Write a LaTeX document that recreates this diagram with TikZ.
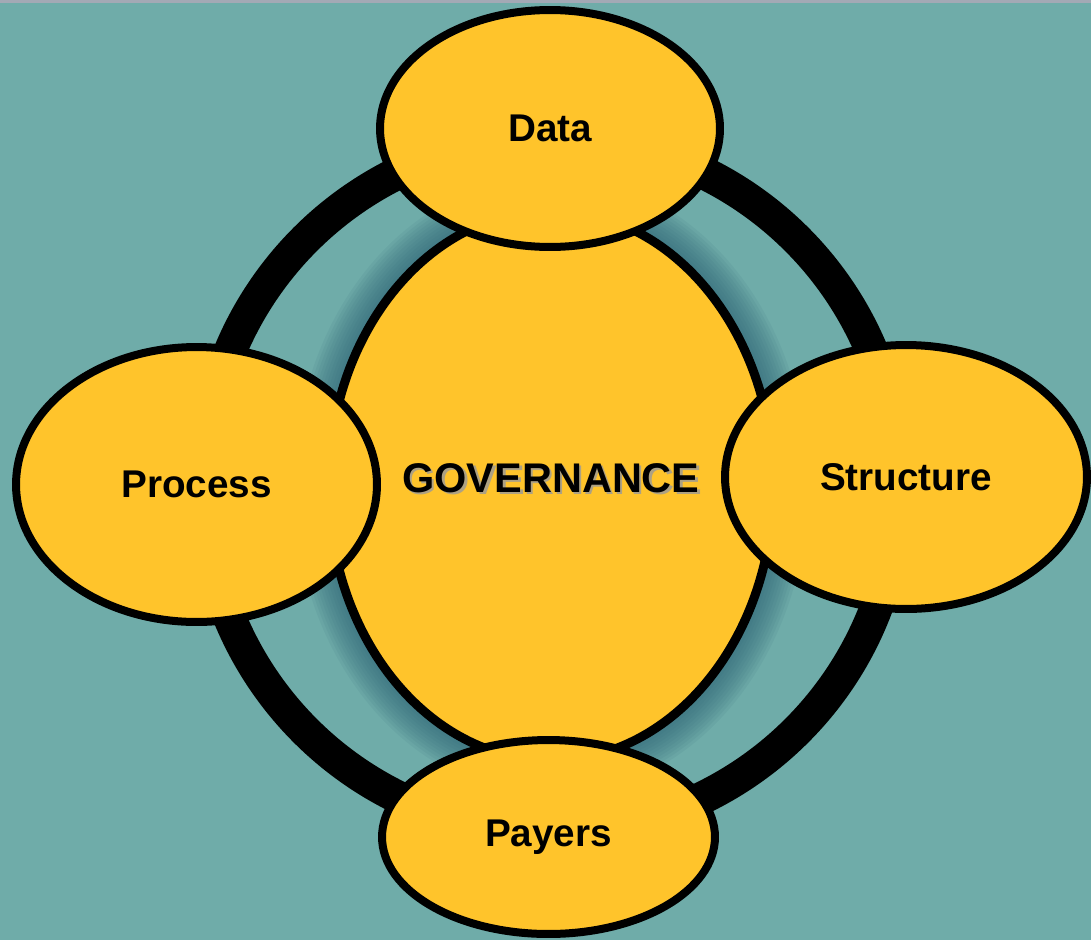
\documentclass[tikz,border=0pt]{standalone}
\usepackage{fontspec}
\setmainfont{Liberation Sans}
\usetikzlibrary{shapes.geometric}

\definecolor{bgteal}{HTML}{6FACA9}
\definecolor{govgold}{HTML}{FFC42B}
\definecolor{glowteal}{HTML}{2B6475}
\definecolor{topstrip}{HTML}{A3A9B5}

\begin{document}
\begin{tikzpicture}[x=0.02cm,y=-0.02cm,
  every node/.style={align=center,font=\bfseries\fontsize{22}{26}\selectfont},
  part/.style={ellipse,draw=black,fill=govgold,line width=0.16cm,inner sep=0pt}]
\useasboundingbox (0,0) rectangle (1091,940);
\fill[bgteal] (0,0) rectangle (1091,940);
\fill[topstrip] (0,0) rectangle (1091,3);

\coordinate (mid) at (551,485.5);
% soft shadow round the centre
\foreach \k in {36,33,...,0}
  \fill[glowteal,fill opacity=0.085] (mid) ellipse ({221+\k} and {274+\k});
% the ring
\draw[line width=0.66cm] (551,485) circle (347.5);

\node (gov) [part,line width=0.18cm,minimum width=8.9cm,minimum height=11.0cm] at (mid) {};
\node (govshadow) [text=black!40,opacity=0.8,font=\bfseries\fontsize{23.6}{28}\selectfont] at (553.5,480.5) {GOVERNANCE};
\node (govtext) [font=\bfseries\fontsize{23.6}{28}\selectfont] at (551,478) {GOVERNANCE};

\node (data) [part,minimum width=6.8cm,minimum height=4.74cm] at (550,128.5) {Data};
\node (process) [part,minimum width=7.22cm,minimum height=5.5cm] at (196.5,484.5) {Process};
\node (structure) [part,minimum width=7.24cm,minimum height=5.28cm] at (906,477) {Structure};
\node (payers) [part,minimum width=6.66cm,minimum height=3.88cm] at (548.5,837) {Payers};
\end{tikzpicture}
\end{document}
